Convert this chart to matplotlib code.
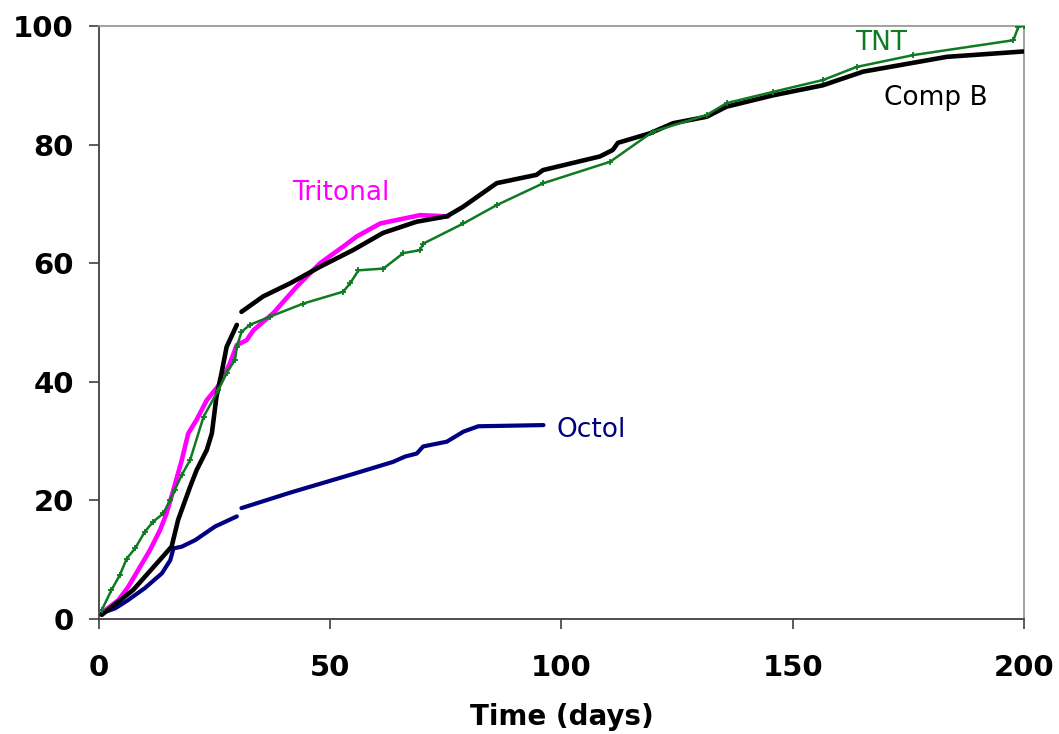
import numpy as np
import matplotlib
matplotlib.use("Agg")
import matplotlib.pyplot as plt

nan = np.nan

# Comp B (black)
compb_days = [0.6, 7.4, 15.7, 17.1, 19.7, 21.1, 23.3, 24.4, 25.4, 26.5, 27.6, 29.8, nan,
              30.8, 35.5, 41.3, 47.8, 54.9, 61.4, 68.7, 75.2, 78.7, 86.0, 94.6, 96.0,
              108.3, 111.1, 112.2, 119.1, 124.1, 131.4, 135.7, 145.7, 156.5, 165.2,
              183.3, 199.8]
compb_vals = [0.7, 4.9, 12.2, 16.7, 22.3, 25.1, 28.5, 31.3, 37.5, 41.5, 45.9, 49.6, nan,
              51.8, 54.4, 56.6, 59.4, 62.2, 65.1, 67.0, 67.9, 69.5, 73.5, 74.9, 75.7,
              78.0, 79.1, 80.3, 81.9, 83.6, 84.7, 86.4, 88.3, 90.0, 92.3,
              94.8, 95.7]

# TNT (green)
tnt_days = [0.6, 2.7, 4.5, 6.0, 7.8, 9.9, 11.7, 13.9, 15.4, 16.4, 17.9, 19.7, 22.6,
            25.8, 27.6, 29.4, 29.8, 30.8, 32.6, 37.0, 44.2, 52.8, 54.3, 56.1, 61.5,
            65.8, 69.4, 70.1, 78.8, 86.0, 96.1, 110.5, 119.8, 131.4, 135.7, 145.8,
            156.6, 163.8, 176.1, 197.7, 198.8, 200.0]
tnt_vals = [1.5, 4.9, 7.4, 10.2, 11.9, 14.7, 16.4, 17.8, 20.1, 21.8, 24.3, 26.8, 34.1,
            38.6, 41.5, 43.7, 45.9, 48.4, 49.6, 51.0, 53.2, 55.2, 56.6, 58.8, 59.1,
            61.7, 62.2, 63.3, 66.7, 69.8, 73.5, 77.1, 82.2, 85.0, 87.0, 88.9,
            90.9, 93.1, 95.1, 97.6, 99.9, 100.0]

# Tritonal (magenta)
tritonal_days = [0.9, 4.2, 6.3, 8.5, 11.0, 13.2, 14.6, 16.1, 17.9, 19.3, 21.1, 23.3,
                 26.2, 28.3, 29.8, 31.9, 33.4, 37.7, 42.7, 47.8, 52.8, 55.7, 60.8,
                 69.4, 75.5]
tritonal_vals = [1.2, 3.2, 5.4, 8.3, 11.6, 15.0, 17.8, 21.8, 26.8, 31.3, 33.6, 36.9,
                 39.7, 43.1, 46.2, 47.0, 48.7, 51.6, 56.0, 60.0, 62.8, 64.5, 66.7,
                 68.1, 67.9]

# Octol (navy)
octol_days = [0.6, 3.5, 6.3, 9.9, 13.6, 15.4, 16.1, 17.9, 20.8, 25.1, 29.8, nan,
              30.8, 41.3, 54.3, 63.6, 66.2, 68.7, 70.1, 75.2, 78.8, 82.0, 96.1]
octol_vals = [1.0, 1.8, 3.2, 5.2, 7.7, 9.9, 11.9, 12.2, 13.3, 15.6, 17.3, nan,
              18.7, 21.3, 24.3, 26.5, 27.4, 27.9, 29.1, 29.9, 31.6, 32.5, 32.7]

x_ticks = [0, 50, 100, 150, 200]
y_ticks = [0, 20, 40, 60, 80, 100]

green = '#0f7a22'

fig = plt.figure(figsize=(10.59, 7.34), dpi=100)
ax = fig.add_axes([99/1059, 1 - 619/734, (1024-99)/1059, (619-26)/734])

ax.plot(tritonal_days, tritonal_vals, color='#FF00FF', lw=3.3, solid_capstyle='round', zorder=2)
ax.plot(octol_days, octol_vals, color='#000080', lw=3.0, solid_capstyle='round', zorder=2)
ax.plot(compb_days, compb_vals, color='black', lw=3.3, solid_capstyle='round', zorder=3)
ax.plot(tnt_days, tnt_vals, color=green, lw=1.8, marker='+', ms=5, mew=1.3, zorder=4)

ax.set_xlim(0, 200)
ax.set_ylim(0, 100)
ax.set_xticks(x_ticks)
ax.set_yticks(y_ticks)
ax.set_xticklabels([str(v) for v in x_ticks], fontsize=21, fontweight='bold')
ax.set_yticklabels([str(v) for v in y_ticks], fontsize=21, fontweight='bold')
ax.tick_params(axis='both', direction='out', length=7, width=1.2, color='#404040')
ax.tick_params(axis='y', pad=11)
ax.tick_params(axis='x', pad=18)

for s in ['left', 'bottom']:
    ax.spines[s].set_color('#404040')
    ax.spines[s].set_linewidth(1.3)
for s in ['top', 'right']:
    ax.spines[s].set_color('#999999')
    ax.spines[s].set_linewidth(1.3)

ax.set_xlabel('Time (days)', fontsize=20, fontweight='bold', labelpad=15)

ax.text(41.7, 70.66, 'Tritonal', color='#FF00FF', fontsize=19, va='baseline', ha='left')
ax.text(163.5, 95.95, 'TNT', color=green, fontsize=19, va='baseline', ha='left')
ax.text(169.7, 86.7, 'Comp B', color='black', fontsize=19, va='baseline', ha='left')
ax.text(99.0, 30.74, 'Octol', color='#000080', fontsize=19, va='baseline', ha='left')

fig.savefig('out.png', dpi=100)
